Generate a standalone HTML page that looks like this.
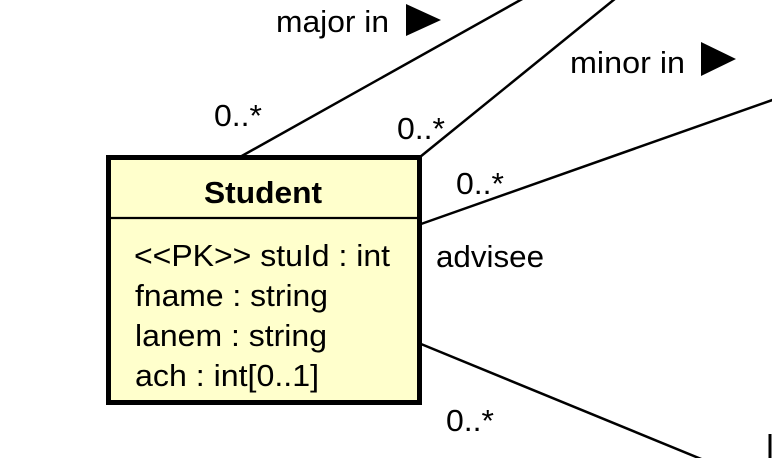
<!DOCTYPE html>
<html>
<head>
<meta charset="utf-8">
<style>
  html, body { margin: 0; padding: 0; background: #ffffff; }
  body { width: 772px; height: 458px; overflow: hidden; }
  svg { display: block; }
  text { font-family: "Liberation Sans", Arial, sans-serif; fill: #000; }
</style>
</head>
<body>
<svg width="772" height="458" viewBox="0 0 772 458" xmlns="http://www.w3.org/2000/svg">
  <rect x="0" y="0" width="772" height="458" fill="#ffffff"/>

  <!-- connectors -->
  <g stroke="#000" stroke-width="2.5" fill="none" stroke-linecap="butt">
    <line x1="240" y1="157" x2="524" y2="-2"/>
    <line x1="420" y1="157" x2="616" y2="-2"/>
    <line x1="421" y1="224" x2="778" y2="98"/>
    <line x1="421" y1="344" x2="706" y2="461"/>
  </g>

  <!-- direction triangles -->
  <polygon points="406,4 406,36 441,20" fill="#000"/>
  <polygon points="701,42 701,76 736,59" fill="#000"/>

  <!-- right edge fragment -->
  <rect x="768.5" y="434" width="3" height="24" fill="#000"/>

  <!-- Student class box -->
  <rect x="108.5" y="157.5" width="311" height="245" fill="#ffffcc" stroke="#000" stroke-width="5"/>
  <line x1="108" y1="218" x2="420" y2="218" stroke="#000" stroke-width="2.2"/>

  <text x="204" y="203" font-size="31" font-weight="bold" textLength="118" lengthAdjust="spacingAndGlyphs">Student</text>

  <text x="134" y="266" font-size="31" textLength="256" lengthAdjust="spacingAndGlyphs">&lt;&lt;PK&gt;&gt; stuId : int</text>
  <text x="135" y="306" font-size="31" textLength="193" lengthAdjust="spacingAndGlyphs">fname : string</text>
  <text x="135" y="346" font-size="31" textLength="192" lengthAdjust="spacingAndGlyphs">lanem : string</text>
  <text x="135" y="386" font-size="31" textLength="184" lengthAdjust="spacingAndGlyphs">ach : int[0..1]</text>

  <!-- association labels -->
  <text x="276" y="32" font-size="31" textLength="113" lengthAdjust="spacingAndGlyphs">major in</text>
  <text x="570" y="73" font-size="31" textLength="115" lengthAdjust="spacingAndGlyphs">minor in</text>
  <text x="436" y="267" font-size="31" textLength="108" lengthAdjust="spacingAndGlyphs">advisee</text>

  <!-- multiplicities -->
  <text x="214" y="126" font-size="31" textLength="48" lengthAdjust="spacingAndGlyphs">0..*</text>
  <text x="397" y="139" font-size="31" textLength="48" lengthAdjust="spacingAndGlyphs">0..*</text>
  <text x="456" y="194" font-size="31" textLength="48" lengthAdjust="spacingAndGlyphs">0..*</text>
  <text x="446" y="431" font-size="31" textLength="48" lengthAdjust="spacingAndGlyphs">0..*</text>
</svg>
</body>
</html>
